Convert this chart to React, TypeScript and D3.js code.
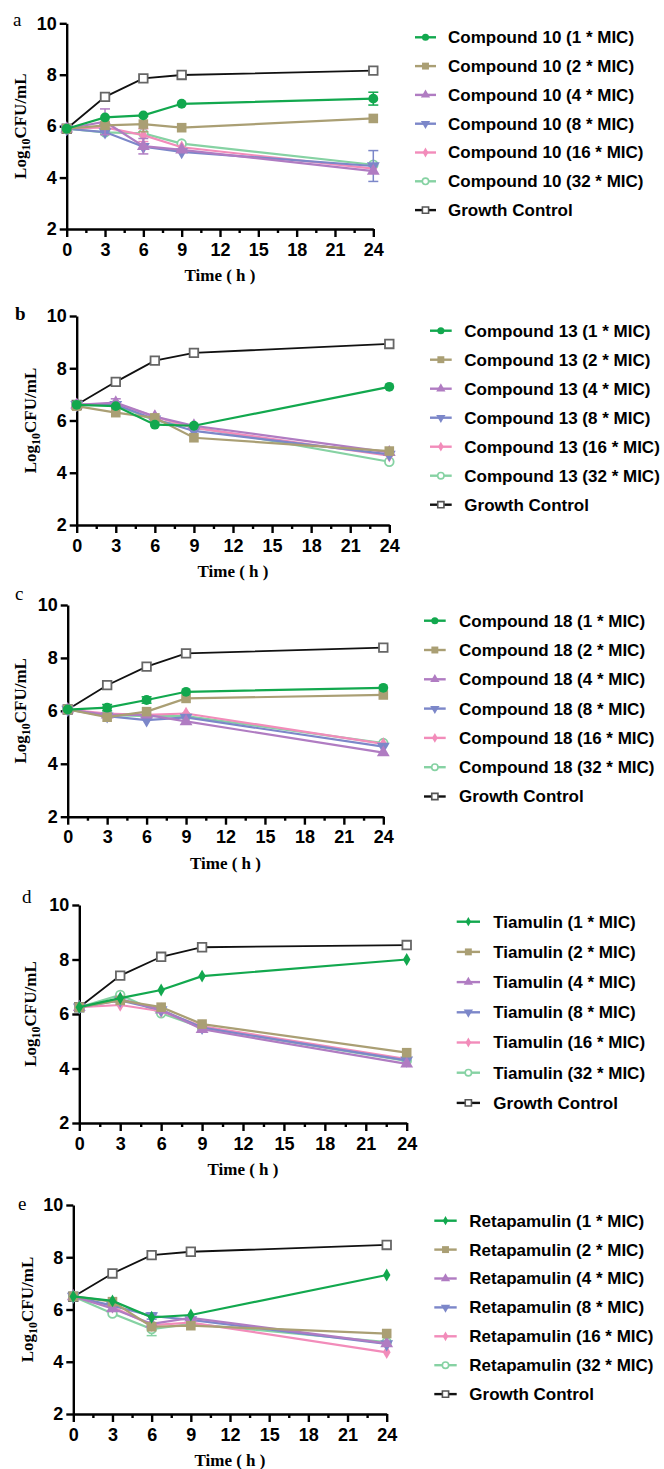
import React, { useEffect, useRef } from "react";
import * as d3 from "d3";

const times = [0, 3, 6, 9, 24];
const xTicks = [0, 3, 6, 9, 12, 15, 18, 21, 24];
const xMinor = [1.5, 4.5, 7.5, 10.5, 13.5, 16.5, 19.5, 22.5];
const yTicks = [2, 4, 6, 8, 10];
const doses = ["1 * MIC", "2 * MIC", "4 * MIC", "8 * MIC", "16 * MIC", "32 * MIC"];
const drugs = ["Compound 10", "Compound 13", "Compound 18", "Tiamulin", "Retapamulin"];
const letters = ["a", "b", "c", "d", "e"];

// rows: 1x, 2x, 4x, 8x, 16x, 32x MIC, growth control
const compound10 = [
  [5.9, 6.34, 6.42, 6.87, 7.07],
  [5.9, 6.03, 6.08, 5.94, 6.3],
  [5.9, 6.17, 5.22, 5.08, 4.25],
  [5.9, 5.77, 5.2, 5.0, 4.45],
  [5.9, 5.95, 5.65, 5.18, 4.35],
  [5.9, 5.76, 5.72, 5.32, 4.5],
  [5.9, 7.14, 7.86, 7.99, 8.16],
];
const compound13 = [
  [6.6, 6.55, 5.84, 5.8, 7.29],
  [6.55, 6.3, 6.1, 5.34, 4.83],
  [6.6, 6.68, 6.15, 5.8, 4.78],
  [6.6, 6.6, 6.05, 5.6, 4.7],
  [6.6, 6.65, 6.15, 5.72, 4.65],
  [6.6, 6.6, 6.0, 5.75, 4.42],
  [6.6, 7.48, 8.29, 8.59, 8.93],
];
const compound18 = [
  [6.05, 6.12, 6.41, 6.72, 6.87],
  [6.05, 5.76, 5.97, 6.47, 6.6],
  [6.05, 5.85, 5.85, 5.6, 4.42],
  [6.05, 5.8, 5.65, 5.75, 4.65],
  [6.05, 5.9, 5.85, 5.9, 4.75],
  [6.05, 5.85, 5.8, 5.8, 4.78],
  [6.05, 6.97, 7.67, 8.17, 8.39],
];
const tiamulin = [
  [6.25, 6.58, 6.88, 7.39, 8.0],
  [6.25, 6.5, 6.25, 5.63, 4.58],
  [6.25, 6.55, 6.15, 5.44, 4.17],
  [6.25, 6.5, 6.15, 5.5, 4.3],
  [6.25, 6.33, 6.1, 5.55, 4.35],
  [6.25, 6.7, 6.03, 5.5, 4.28],
  [6.25, 7.41, 8.1, 8.45, 8.53],
];
const retapamulin = [
  [6.5, 6.33, 5.7, 5.79, 7.32],
  [6.5, 6.3, 5.34, 5.38, 5.08],
  [6.5, 6.04, 5.45, 5.68, 4.7],
  [6.5, 6.15, 5.75, 5.6, 4.68],
  [6.5, 6.1, 5.4, 5.5, 4.36],
  [6.5, 5.85, 5.25, 5.45, 4.75],
  [6.49, 7.38, 8.08, 8.21, 8.47],
];

// [series, time index, sd]
const compound10Err = [[0, 4, 0.25], [1, 2, 0.3], [2, 1, 0.5], [2, 2, 0.3], [4, 2, 0.25], [3, 4, 0.6]];
const compound13Err = [[2, 1, 0.15]];
const compound18Err = [[0, 1, 0.12], [0, 2, 0.12]];
const tiamulinErr = [];
const retapamulinErr = [[5, 2, 0.25], [3, 2, 0.12]];

const allValues = [compound10, compound13, compound18, tiamulin, retapamulin];
const allErrors = [compound10Err, compound13Err, compound18Err, tiamulinErr, retapamulinErr];

const colors = ["#12a84e", "#aa9f74", "#b07cc2", "#7c87c9", "#f28cba", "#86d2a3", "#111111"];

// layout of each panel (pixel positions)
const layout = [
  { x0: 66.7, x1: 373.3, yT: 23.3, yB: 229, lx: 13, ly: 26, ylx: 20, gx0: 415, gx1: 436, tx: 448, gy: 37.3, gs: 28.8 },
  { x0: 76.7, x1: 389.3, yT: 316, yB: 525, lx: 15, ly: 320, ylx: 30, gx0: 430, gx1: 451.7, tx: 464.3, gy: 330.7, gs: 29 },
  { x0: 67.7, x1: 383.3, yT: 605, yB: 816.7, lx: 15, ly: 600, ylx: 20, gx0: 424, gx1: 445.7, tx: 459, gy: 620.7, gs: 29.3 },
  { x0: 79.3, x1: 406.7, yT: 905, yB: 1123, lx: 22, ly: 903, ylx: 30, gx0: 456.7, gx1: 480, tx: 493.3, gy: 921.7, gs: 30.2 },
  { x0: 73.3, x1: 386.7, yT: 1205, yB: 1414, lx: 18, ly: 1210, ylx: 27, gx0: 434.3, gx1: 456.7, tx: 469.3, gy: 1220.7, gs: 28.9 },
];

const markerFor = (series, panel, legend) => {
  const k = legend ? 0.6 : 1.15;
  if (series === 0) {
    if (panel >= 3) return { path: d3.symbol(d3.symbolDiamond, 42 * k)(), rot: 0, fill: true };
    return { path: d3.symbol(d3.symbolCircle, 66 * k)(), rot: 0, fill: true };
  }
  if (series === 1) return { path: d3.symbol(d3.symbolSquare, 80 * k)(), rot: 0, fill: true };
  if (series === 2) return { path: d3.symbol(d3.symbolTriangle, 62 * k)(), rot: 0, fill: true };
  if (series === 3) return { path: d3.symbol(d3.symbolTriangle, 62 * k)(), rot: 180, fill: true };
  if (series === 4) return { path: d3.symbol(d3.symbolDiamond, 46 * k)(), rot: 0, fill: true };
  if (series === 5) return { path: d3.symbol(d3.symbolCircle, 52 * k)(), rot: 0, fill: false };
  return { path: d3.symbol(d3.symbolSquare, 64 * k)(), rot: 0, fill: false };
};

const App = () => {
  const svgRef = useRef(null);

  useEffect(() => {
    const svg = d3.select(svgRef.current);
    svg.selectAll("*").remove();

    allValues.forEach((values, p) => {
      const L = layout[p];
      const g = svg.append("g");
      const x = d3.scaleLinear().domain([0, 24]).range([L.x0, L.x1]);
      const y = d3.scaleLinear().domain([2, 10]).range([L.yB, L.yT]);

      // axes
      const yAx = g.append("g").attr("transform", `translate(${L.x0},0)`)
        .call(d3.axisLeft(y).tickValues(yTicks).tickSize(7).tickSizeOuter(0).tickPadding(3));
      const xAx = g.append("g").attr("transform", `translate(0,${L.yB})`)
        .call(d3.axisBottom(x).tickValues(xTicks).tickSize(8).tickSizeOuter(0).tickPadding(4));
      const xMin = g.append("g").attr("transform", `translate(0,${L.yB})`)
        .call(d3.axisBottom(x).tickValues(xMinor).tickSize(4).tickSizeOuter(0).tickFormat(() => ""));
      xMin.select(".domain").remove();
      [yAx, xAx, xMin].forEach((a) => {
        a.selectAll("path,line").attr("stroke", "#000").attr("stroke-width", 2.4);
        a.selectAll("text")
          .attr("fill", "#000")
          .attr("font-family", "Liberation Sans, Arial, sans-serif")
          .attr("font-weight", "bold")
          .attr("font-size", 18);
      });
      xAx.selectAll("text").attr("dy", "0.82em");

      // panel letter
      g.append("text").attr("x", L.lx).attr("y", L.ly)
        .attr("font-family", "Liberation Serif, Times New Roman, serif")
        .attr("font-size", 19).attr("font-weight", p === 1 ? "bold" : "normal")
        .text(letters[p]);

      // axis titles
      g.append("text")
        .attr("x", (L.x0 + L.x1) / 2).attr("y", L.yB + 52)
        .attr("text-anchor", "middle")
        .attr("font-family", "Liberation Serif, Times New Roman, serif")
        .attr("font-weight", "bold").attr("font-size", 17)
        .text("Time ( h )");
      const yl = g.append("text")
        .attr("transform", `translate(${L.ylx + 6},${(L.yT + L.yB) / 2}) rotate(-90)`)
        .attr("text-anchor", "middle")
        .attr("font-family", "Liberation Serif, Times New Roman, serif")
        .attr("font-weight", "bold").attr("font-size", 17);
      yl.append("tspan").text("Log");
      yl.append("tspan").attr("dy", 4).attr("font-size", 12).text("10");
      yl.append("tspan").attr("dy", -4).text("CFU/mL");

      const order = [6, 5, 4, 3, 2, 1, 0];
      const line = d3.line().x((d) => x(d[0])).y((d) => y(d[1]));

      order.forEach((s) => {
        const pts = times.map((t, i) => [t, values[s][i]]);
        const col = colors[s];
        g.append("path").attr("d", line(pts)).attr("fill", "none")
          .attr("stroke", col).attr("stroke-width", s === 6 ? 1.8 : 2.2);

        allErrors[p].filter((e) => e[0] === s).forEach((e) => {
          const cx = x(times[e[1]]);
          const v = values[s][e[1]];
          const eg = g.append("g").attr("stroke", col).attr("stroke-width", 1.5);
          eg.append("line").attr("x1", cx).attr("x2", cx).attr("y1", y(v + e[2])).attr("y2", y(v - e[2]));
          eg.append("line").attr("x1", cx - 5).attr("x2", cx + 5).attr("y1", y(v + e[2])).attr("y2", y(v + e[2]));
          eg.append("line").attr("x1", cx - 5).attr("x2", cx + 5).attr("y1", y(v - e[2])).attr("y2", y(v - e[2]));
        });

        const m = markerFor(s, p, false);
        g.selectAll(null).data(pts).enter().append("path")
          .attr("d", m.path)
          .attr("transform", (d) => `translate(${x(d[0])},${y(d[1])}) rotate(${m.rot})`)
          .attr("fill", m.fill ? col : "#fff")
          .attr("stroke", s === 6 ? "#666" : col)
          .attr("stroke-width", m.fill ? 0 : 1.8);
      });

      // legend
      const names = doses.map((d) => `${drugs[p]} (${d})`).concat(["Growth Control"]);
      names.forEach((name, s) => {
        const yy = L.gy + s * L.gs;
        const col = colors[s];
        g.append("line").attr("x1", L.gx0).attr("x2", L.gx1).attr("y1", yy).attr("y2", yy)
          .attr("stroke", col).attr("stroke-width", 2.4);
        const m = markerFor(s, p, true);
        g.append("path").attr("d", m.path)
          .attr("transform", `translate(${(L.gx0 + L.gx1) / 2},${yy}) rotate(${m.rot})`)
          .attr("fill", m.fill ? col : "#fff")
          .attr("stroke", s === 6 ? "#555" : col)
          .attr("stroke-width", m.fill ? 0 : 1.6);
        g.append("text").attr("x", L.tx).attr("y", yy).attr("dy", "0.35em")
          .attr("font-family", "Liberation Sans, Arial, sans-serif")
          .attr("font-weight", "bold").attr("font-size", 17)
          .attr("fill", "#000")
          .text(name);
      });
    });
  }, []);

  return (
    <svg
      ref={svgRef}
      width={664}
      height={1469}
      style={{ position: "absolute", left: 0, top: 0, background: "#fff" }}
    />
  );
};

export default App;
